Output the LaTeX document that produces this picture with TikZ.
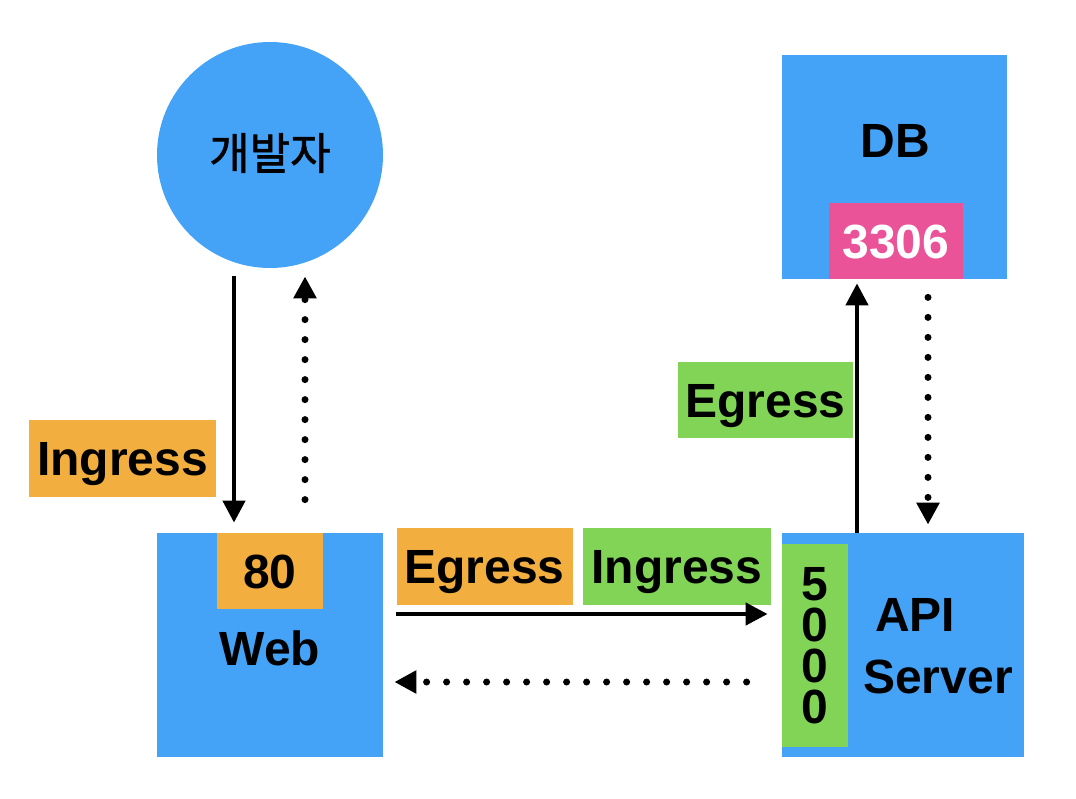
\documentclass[tikz,border=0pt]{standalone}
\usepackage{fontspec}
\setmainfont{Liberation Sans}
\newfontfamily\krfont[FakeBold=1.3]{Noto Sans CJK KR}
\usetikzlibrary{arrows.meta,positioning}
\definecolor{boxblue}{HTML}{44A3F6}
\definecolor{portorange}{HTML}{F2AF3F}
\definecolor{portgreen}{HTML}{81D455}
\definecolor{portpink}{HTML}{EB5399}
\tikzset{
  box/.style={fill=boxblue, inner sep=0pt},
  tag/.style={inner sep=0pt, font=\fontsize{24}{24}\selectfont\bfseries},
  label/.style={tag, text height=17.2pt, text depth=0pt},
  flow/.style={line width=2.25pt, -{Triangle[length=11pt,width=11pt]}},
  reply/.style={line width=3.5pt, line cap=round, dash pattern=on 0pt off 10pt, -{Triangle[length=11pt,width=11pt]}}
}

\begin{document}
\begin{tikzpicture}[x=0.5pt, y=-0.5pt]
  \useasboundingbox (0,0) rectangle (1076,798);
  % boxes
  \node[box, circle, minimum size=113pt] (dev) at (270,155) {};
  \node[tag, font=\fontsize{22}{22}\selectfont\krfont] (devtxt) at (270,153) {개발자};
  \node[box, minimum width=112.5pt, minimum height=112pt] (db) at (894.5,167) {};
  \node[box, minimum width=113pt, minimum height=112pt] (web) at (270,645) {};
  \node[box, minimum width=121pt, minimum height=112pt] (api) at (903,645) {};
  % ports
  \node[label, fill=portpink, text=white, minimum width=67pt, minimum height=38pt] (p3306) at (896,241) {3306};
  \node[label, fill=portorange, minimum width=53pt, minimum height=38pt] (p80) at (270,571) {80};
  \node[tag, fill=portgreen, align=center, font=\fontsize{24}{20.5}\selectfont\bfseries, minimum width=33pt, minimum height=101.5pt] (p5000) at (815,645.5) {5\\0\\0\\0};
  % names
  \node[label] (dbtxt) at (895,140) {DB};
  \node[label] (webtxt) at (270,648) {Web};
  \node[tag, align=center, font=\fontsize{24}{31}\selectfont\bfseries] (apitxt) at (938,646.5) {API\hspace*{23pt}\\Server};
  % rules
  \node[label, fill=portorange, minimum width=93.5pt, minimum height=38.5pt] (ingweb) at (122.5,458.5) {Ingress};
  \node[label, fill=portgreen, minimum width=87.5pt, minimum height=38pt] (egapi) at (765.5,400) {Egress};
  \node[label, fill=portorange, minimum width=88pt, minimum height=38.5pt] (egweb) at (484.5,566.5) {Egress};
  \node[label, fill=portgreen, minimum width=94pt, minimum height=38.5pt] (ingapi) at (677,566.5) {Ingress};
  % traffic
  \draw[flow] ([xshift=-18pt,yshift=-4pt]dev.south) -- ([xshift=-18pt,yshift=5pt]web.north);
  \draw[reply] ([xshift=17.5pt,yshift=16.5pt]web.north) -- ([xshift=17.5pt,yshift=-4pt]dev.south);
  \draw[flow] ([xshift=6.5pt,yshift=15.5pt]web.east) -- ([xshift=-7pt,yshift=15.5pt]api.west);
  \draw[reply] ([xshift=-17.5pt,yshift=-18.5pt]api.west) -- ([xshift=5.5pt,yshift=-18.5pt]web.east);
  \draw[flow] ([xshift=-23pt]api.north) -- ([xshift=-18.75pt,yshift=-2pt]db.south);
  \draw[reply] ([xshift=16.75pt,yshift=-9pt]db.south) -- ([xshift=12.5pt,yshift=4pt]api.north);
\end{tikzpicture}
\end{document}
